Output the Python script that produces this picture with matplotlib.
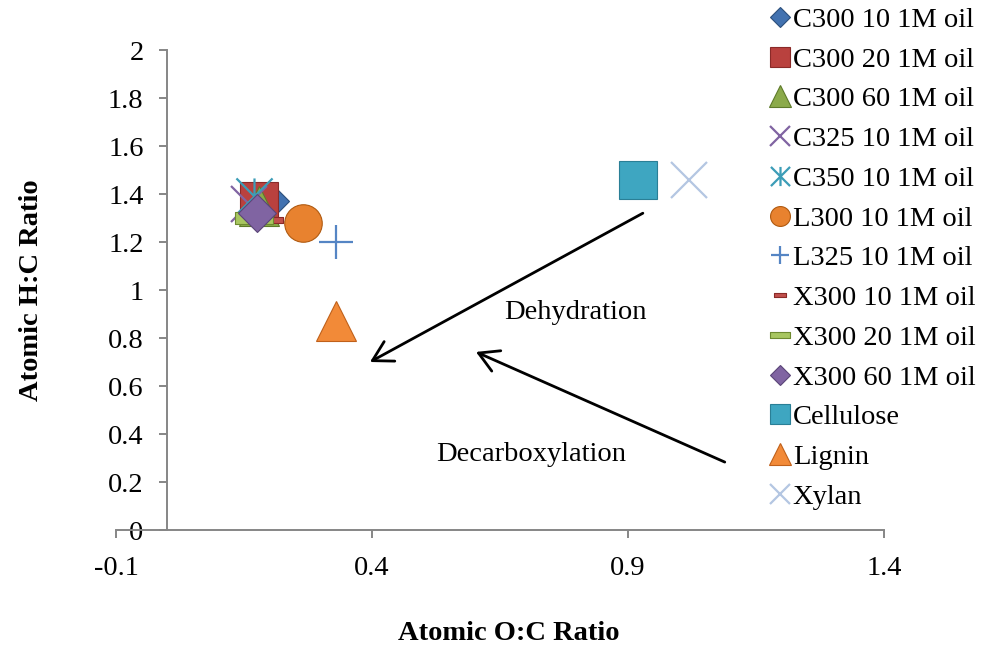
import matplotlib
matplotlib.use('Agg')
import matplotlib.pyplot as plt
from matplotlib.path import Path

plt.rcParams['font.family'] = ['Liberation Serif', 'DejaVu Serif']

##############################################################################
# Data

samples = ['C300 10 1M oil', 'C300 20 1M oil', 'C300 60 1M oil', 'C325 10 1M oil',
           'C350 10 1M oil', 'L300 10 1M oil', 'L325 10 1M oil', 'X300 10 1M oil',
           'X300 20 1M oil', 'X300 60 1M oil', 'Cellulose', 'Lignin', 'Xylan']
o_to_c = [0.20, 0.18, 0.18, 0.16, 0.17, 0.265, 0.33, 0.205, 0.17, 0.175, 0.92, 0.33, 1.02]
h_to_c = [1.37, 1.37, 1.35, 1.36, 1.39, 1.28, 1.20, 1.29, 1.30, 1.32, 1.46, 0.87, 1.46]

x_ticks = [-0.1, 0.4, 0.9, 1.4]
y_ticks = [0, 0.2, 0.4, 0.6, 0.8, 1, 1.2, 1.4, 1.6, 1.8, 2]
y_tick_labels = ['0', '0.2', '0.4', '0.6', '0.8', '1', '1.2', '1.4', '1.6', '1.8', '2']

# (label, x, y) annotations and arrows (start -> end)
notes = [('Dehydration', 0.798, 0.905), ('Decarboxylation', 0.71, 0.315)]
arrows = [((0.929, 1.32), (0.396, 0.70)), ((1.089, 0.283), (0.603, 0.742))]

##############################################################################
# Marker styles (Excel 2007 look)

asterisk = Path([(0, -1), (0, 1), (-1, -1), (1, 1), (-1, 1), (1, -1)],
                [Path.MOVETO, Path.LINETO] * 3)
bar = [(-1, -0.3), (1, -0.3), (1, 0.3), (-1, 0.3), (-1, -0.3)]

# marker, size, face, edge
styles = [('D', 19, '#4272B0', '#2C4F7C'),
          ('s', 28, '#B9413E', '#8A2A28'),
          ('^', 29, '#8BAA4A', '#5E7A2A'),
          ('x', 26, '#8064A2', '#8064A2'),
          (asterisk, 26, '#4BACC6', '#3C9DB7'),
          ('o', 27, '#E8822F', '#B05A10'),
          ('+', 25, '#5585C4', '#5585C4'),
          (bar, 16, '#C0504D', '#8A2A28'),
          (bar, 27, '#A8C660', '#6E8A30'),
          ('D', 19, '#8064A2', '#5A4578'),
          ('s', 28, '#3EA6C1', '#2A7F96'),
          ('^', 29, '#F28A38', '#C0601A'),
          ('x', 26, '#B4C6E2', '#B4C6E2')]

fs = 20.5

##############################################################################

fig = plt.figure(figsize=(9.89, 6.51), dpi=100)
ax = fig.add_axes([116/989, 121/651, 768/989, 480/651])

for name, x, y, (m, s, fc, ec) in zip(samples, o_to_c, h_to_c, styles):
    lw = 1.6 if m in ('x', '+') or m is asterisk else 0.8
    ax.plot([x], [y], linestyle='none', marker=m, markersize=s,
            markerfacecolor=fc, markeredgecolor=ec, markeredgewidth=lw, label=name)

for (x0, y0), (x1, y1) in arrows:
    ax.annotate('', xy=(x1, y1), xytext=(x0, y0),
                arrowprops=dict(arrowstyle='->,head_length=0.7,head_width=0.4',
                                lw=2, color='black', shrinkA=0, shrinkB=0,
                                mutation_scale=20))
for txt, x, y in notes:
    ax.text(x, y, txt, fontsize=fs, ha='center', va='center')

ax.set_xlim(-0.1, 1.4)
ax.set_ylim(0, 2)
ax.set_xticks(x_ticks)
ax.set_xticklabels(['-0.1', '0.4', '0.9', '1.4'])
ax.set_yticks(y_ticks)
ax.set_yticklabels(y_tick_labels)

axis_grey = '#868686'
ax.spines['top'].set_visible(False)
ax.spines['right'].set_visible(False)
ax.spines['left'].set_position(('data', 0))
for sp in ('left', 'bottom'):
    ax.spines[sp].set_color(axis_grey)
    ax.spines[sp].set_linewidth(1.4)
ax.tick_params(axis='both', colors=axis_grey, labelcolor='black', labelsize=fs,
               width=1.4, length=6, direction='out')
ax.tick_params(axis='y', pad=11)
ax.tick_params(axis='x', pad=13)

ax.set_xlabel('Atomic O:C Ratio', fontsize=fs, fontweight='bold')
ax.xaxis.set_label_coords(0.512, -0.19)
ax.set_ylabel('Atomic H:C Ratio', fontsize=fs, fontweight='bold')
ax.yaxis.set_label_coords(-0.094, 0.5)

ax.legend(loc='upper left', bbox_to_anchor=(771.5/989, 1 - 7/651),
          bbox_transform=fig.transFigure, frameon=False, fontsize=fs,
          markerscale=0.53, handlelength=0.6, handletextpad=0.15,
          borderpad=0, borderaxespad=0, labelspacing=0.485, numpoints=1)

fig.savefig('out.png', dpi=100)
